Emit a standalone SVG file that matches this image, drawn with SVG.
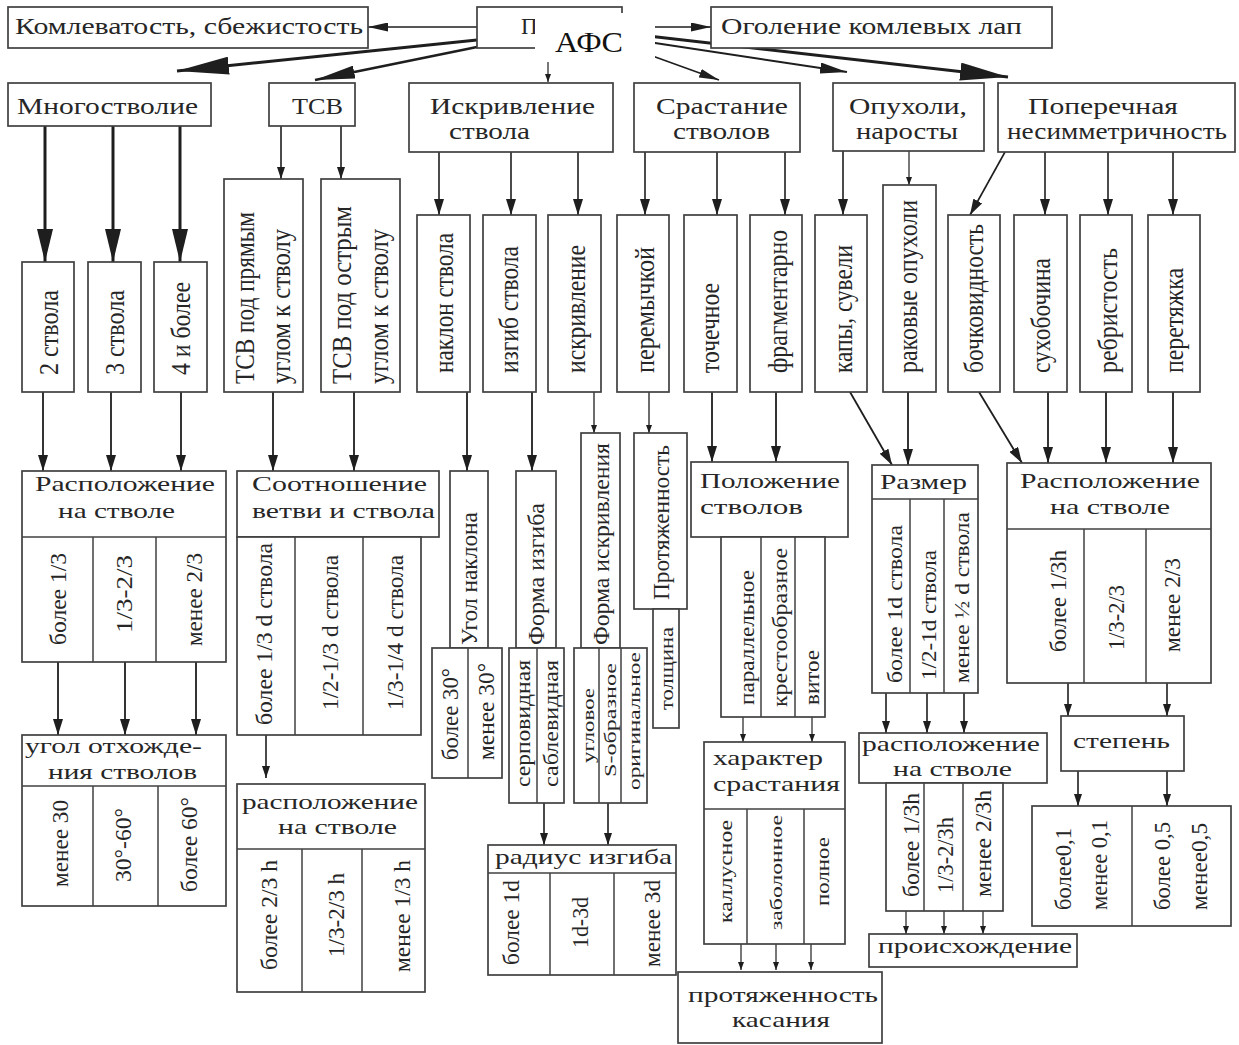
<svg xmlns="http://www.w3.org/2000/svg" width="1239" height="1045" viewBox="0 0 1239 1045">
<style>
.b{fill:#fff;stroke:#404040;stroke-width:1.7}
.ln{fill:none;stroke:#404040;stroke-width:1.5}
.c{fill:none;stroke:#1e1e1e;stroke-width:1.6}
.t{font-family:"Liberation Serif","Times New Roman",serif;font-size:22px;fill:#262626}
.v{font-family:"Liberation Serif","Times New Roman",serif;font-size:28px;fill:#262626;dominant-baseline:central}
.s{font-size:24px}
.xs{font-size:17px}
.ah{fill:#1e1e1e;stroke:none}
</style>
<defs>
<marker id="m52" markerUnits="userSpaceOnUse" markerWidth="52" markerHeight="18" refX="52" refY="9" orient="auto"><path class="ah" d="M0,0 L52,9 L0,18 z"/></marker>
<marker id="m48" markerUnits="userSpaceOnUse" markerWidth="48" markerHeight="18" refX="48" refY="9" orient="auto"><path class="ah" d="M0,0 L48,9 L0,18 z"/></marker>
<marker id="m40" markerUnits="userSpaceOnUse" markerWidth="40" markerHeight="13" refX="40" refY="6.5" orient="auto"><path class="ah" d="M0,0 L40,6.5 L0,13 z"/></marker>
<marker id="m33" markerUnits="userSpaceOnUse" markerWidth="33" markerHeight="16" refX="33" refY="8" orient="auto"><path class="ah" d="M0,0 L33,8 L0,16 z"/></marker>
<marker id="m27" markerUnits="userSpaceOnUse" markerWidth="27" markerHeight="11" refX="27" refY="5.5" orient="auto"><path class="ah" d="M0,0 L27,5.5 L0,11 z"/></marker>
<marker id="m20" markerUnits="userSpaceOnUse" markerWidth="20" markerHeight="9" refX="20" refY="4.5" orient="auto"><path class="ah" d="M0,0 L20,4.5 L0,9 z"/></marker>
<marker id="m16" markerUnits="userSpaceOnUse" markerWidth="16" markerHeight="10" refX="16" refY="5" orient="auto"><path class="ah" d="M0,0 L16,5 L0,10 z"/></marker>
<marker id="m12" markerUnits="userSpaceOnUse" markerWidth="12" markerHeight="8" refX="12" refY="4" orient="auto"><path class="ah" d="M0,0 L12,4 L0,8 z"/></marker>
<marker id="m8" markerUnits="userSpaceOnUse" markerWidth="8" markerHeight="6" refX="8" refY="3" orient="auto"><path class="ah" d="M0,0 L8,3 L0,6 z"/></marker>
</defs>
<rect x="0" y="0" width="1239" height="1045" fill="#fff"/>

<g id="connectors">
<line class="c" x1="477" y1="27" x2="368" y2="27" marker-end="url(#m20)"/>
<line class="c" x1="622" y1="27" x2="711" y2="27" marker-end="url(#m20)"/>
<line class="c" x1="477" y1="40" x2="177" y2="71" style="stroke-width:3" marker-end="url(#m52)"/>
<line class="c" x1="477" y1="47" x2="315" y2="80" style="stroke-width:2.5" marker-end="url(#m40)"/>
<line class="c" x1="548" y1="48" x2="548" y2="82" style="stroke-width:1.2" marker-end="url(#m8)"/>
<line class="c" x1="622" y1="45" x2="719" y2="80" marker-end="url(#m20)"/>
<line class="c" x1="622" y1="38" x2="847" y2="72" style="stroke-width:2" marker-end="url(#m27)"/>
<line class="c" x1="622" y1="33" x2="1008" y2="77" style="stroke-width:3" marker-end="url(#m48)"/>

<line class="c" x1="45" y1="126" x2="45" y2="262" style="stroke-width:3" marker-end="url(#m33)"/>
<line class="c" x1="113" y1="126" x2="113" y2="262" style="stroke-width:3" marker-end="url(#m33)"/>
<line class="c" x1="180" y1="126" x2="180" y2="262" style="stroke-width:3" marker-end="url(#m33)"/>
<line class="c" x1="281" y1="126" x2="281" y2="179" marker-end="url(#m12)"/>
<line class="c" x1="341" y1="126" x2="341" y2="179" marker-end="url(#m12)"/>
<line class="c" x1="439" y1="152" x2="439" y2="215" marker-end="url(#m16)"/>
<line class="c" x1="511" y1="152" x2="511" y2="215" marker-end="url(#m16)"/>
<line class="c" x1="578" y1="152" x2="578" y2="215" marker-end="url(#m16)"/>
<line class="c" x1="645" y1="152" x2="645" y2="215" marker-end="url(#m16)"/>
<line class="c" x1="717" y1="152" x2="717" y2="215" marker-end="url(#m16)"/>
<line class="c" x1="785" y1="152" x2="785" y2="215" marker-end="url(#m16)"/>
<line class="c" x1="843" y1="151" x2="843" y2="215" marker-end="url(#m16)"/>
<line class="c" x1="909" y1="151" x2="909" y2="185" style="stroke-width:1.2" marker-end="url(#m8)"/>
<line class="c" x1="1005" y1="152" x2="970" y2="215" marker-end="url(#m16)"/>
<line class="c" x1="1045" y1="152" x2="1045" y2="215" marker-end="url(#m16)"/>
<line class="c" x1="1108" y1="152" x2="1108" y2="215" marker-end="url(#m16)"/>
<line class="c" x1="1173" y1="152" x2="1173" y2="215" marker-end="url(#m16)"/>

<line class="c" x1="43" y1="392" x2="43" y2="471" style="stroke-width:1.8" marker-end="url(#m16)"/>
<line class="c" x1="111" y1="392" x2="111" y2="471" style="stroke-width:1.8" marker-end="url(#m16)"/>
<line class="c" x1="181" y1="392" x2="181" y2="471" style="stroke-width:1.8" marker-end="url(#m16)"/>
<line class="c" x1="273" y1="392" x2="273" y2="471" style="stroke-width:1.8" marker-end="url(#m16)"/>
<line class="c" x1="354" y1="392" x2="354" y2="471" style="stroke-width:1.8" marker-end="url(#m16)"/>
<line class="c" x1="467" y1="392" x2="467" y2="471" style="stroke-width:1.8" marker-end="url(#m16)"/>
<line class="c" x1="532" y1="392" x2="532" y2="471" style="stroke-width:1.8" marker-end="url(#m16)"/>
<line class="c" x1="594" y1="392" x2="594" y2="433" style="stroke-width:1.3" marker-end="url(#m8)"/>
<line class="c" x1="649" y1="392" x2="649" y2="433" style="stroke-width:1.3" marker-end="url(#m8)"/>
<line class="c" x1="712" y1="392" x2="712" y2="462" style="stroke-width:1.8" marker-end="url(#m16)"/>
<line class="c" x1="776" y1="392" x2="776" y2="462" style="stroke-width:1.8" marker-end="url(#m16)"/>
<line class="c" x1="850" y1="392" x2="892" y2="465" style="stroke-width:1.8" marker-end="url(#m16)"/>
<line class="c" x1="908" y1="392" x2="908" y2="465" style="stroke-width:1.8" marker-end="url(#m16)"/>
<line class="c" x1="979" y1="392" x2="1022" y2="463" style="stroke-width:1.8" marker-end="url(#m16)"/>
<line class="c" x1="1048" y1="392" x2="1048" y2="463" style="stroke-width:1.8" marker-end="url(#m16)"/>
<line class="c" x1="1106" y1="392" x2="1106" y2="463" style="stroke-width:1.8" marker-end="url(#m16)"/>
<line class="c" x1="1173" y1="392" x2="1173" y2="463" style="stroke-width:1.8" marker-end="url(#m16)"/>

<line class="c" x1="58" y1="662" x2="58" y2="735" style="stroke-width:1.8" marker-end="url(#m16)"/>
<line class="c" x1="125" y1="662" x2="125" y2="735" style="stroke-width:1.8" marker-end="url(#m16)"/>
<line class="c" x1="196" y1="662" x2="196" y2="735" style="stroke-width:1.8" marker-end="url(#m16)"/>
<line class="c" x1="266" y1="735" x2="266" y2="778" marker-end="url(#m12)"/>
<line class="c" x1="544" y1="803" x2="544" y2="845" marker-end="url(#m12)"/>
<line class="c" x1="608" y1="803" x2="608" y2="845" marker-end="url(#m12)"/>
<line class="c" x1="743" y1="717" x2="743" y2="742" style="stroke-width:1.2" marker-end="url(#m8)"/>
<line class="c" x1="812" y1="717" x2="812" y2="742" style="stroke-width:1.2" marker-end="url(#m8)"/>
<line class="c" x1="741" y1="944" x2="741" y2="970" style="stroke-width:1.2" marker-end="url(#m8)"/>
<line class="c" x1="776" y1="944" x2="776" y2="970" style="stroke-width:1.2" marker-end="url(#m8)"/>
<line class="c" x1="811" y1="944" x2="811" y2="970" style="stroke-width:1.2" marker-end="url(#m8)"/>
<line class="c" x1="886" y1="693" x2="886" y2="733" marker-end="url(#m12)"/>
<line class="c" x1="927" y1="693" x2="927" y2="733" marker-end="url(#m12)"/>
<line class="c" x1="964" y1="693" x2="964" y2="733" marker-end="url(#m12)"/>
<line class="c" x1="906" y1="911" x2="906" y2="934" style="stroke-width:1.2" marker-end="url(#m8)"/>
<line class="c" x1="944" y1="911" x2="944" y2="934" style="stroke-width:1.2" marker-end="url(#m8)"/>
<line class="c" x1="983" y1="911" x2="983" y2="934" style="stroke-width:1.2" marker-end="url(#m8)"/>
<line class="c" x1="1068" y1="683" x2="1068" y2="716" marker-end="url(#m12)"/>
<line class="c" x1="1167" y1="683" x2="1167" y2="716" marker-end="url(#m12)"/>
<line class="c" x1="1078" y1="771" x2="1078" y2="806" marker-end="url(#m12)"/>
<line class="c" x1="1167" y1="771" x2="1167" y2="806" marker-end="url(#m12)"/>
</g>

<g id="n-komlev"><rect class="b" x="8" y="7" width="360" height="41"/><text class="t" x="15" y="34" style="font-size:23px" textLength="348" lengthAdjust="spacingAndGlyphs">Комлеватость, сбежистость</text></g>
<g id="n-root"><rect class="b" x="477" y="7" width="145" height="41"/><text class="t" x="521" y="34" style="font-size:23px">П</text><rect x="535" y="13" width="120" height="49" fill="#fff"/><text x="555" y="52" style="font-family:'Liberation Serif','Times New Roman',serif;font-size:30px;fill:#111" textLength="68" lengthAdjust="spacingAndGlyphs">АФС</text></g>
<g id="n-ogol"><rect class="b" x="711" y="7" width="341" height="41"/><text class="t" x="721" y="34" style="font-size:23px" textLength="301" lengthAdjust="spacingAndGlyphs">Оголение комлевых лап</text></g>

<g id="n-mnogo"><rect class="b" x="8" y="83" width="203" height="43"/><text class="t" x="17" y="114" style="font-size:23px" textLength="181" lengthAdjust="spacingAndGlyphs">Многостволие</text></g>
<g id="n-tsv"><rect class="b" x="269" y="83" width="86" height="43"/><text class="t" x="292" y="114" style="font-size:23px" textLength="51" lengthAdjust="spacingAndGlyphs">ТСВ</text></g>
<g id="n-iskriv"><rect class="b" x="409" y="83" width="204" height="69"/><text class="t" x="430" y="114" style="font-size:23px" textLength="165" lengthAdjust="spacingAndGlyphs">Искривление</text><text class="t" x="449" y="139" style="font-size:23px" textLength="81" lengthAdjust="spacingAndGlyphs">ствола</text></g>
<g id="n-srast"><rect class="b" x="634" y="83" width="166" height="69"/><text class="t" x="656" y="114" style="font-size:23px" textLength="132" lengthAdjust="spacingAndGlyphs">Срастание</text><text class="t" x="673" y="139" style="font-size:23px" textLength="97" lengthAdjust="spacingAndGlyphs">стволов</text></g>
<g id="n-opuh"><rect class="b" x="833" y="83" width="151" height="68"/><text class="t" x="849" y="114" style="font-size:23px" textLength="118" lengthAdjust="spacingAndGlyphs">Опухоли,</text><text class="t" x="856" y="139" style="font-size:23px" textLength="102" lengthAdjust="spacingAndGlyphs">наросты</text></g>
<g id="n-poper"><rect class="b" x="998" y="83" width="237" height="69"/><text class="t" x="1028" y="114" style="font-size:23px" textLength="150" lengthAdjust="spacingAndGlyphs">Поперечная</text><text class="t" x="1007" y="139" style="font-size:23px" textLength="220" lengthAdjust="spacingAndGlyphs">несимметричность</text></g>

<g id="n-2stv"><rect class="b" x="22" y="262" width="52" height="130"/><text class="v" transform="translate(48,375) rotate(-90)" textLength="85" lengthAdjust="spacingAndGlyphs">2 ствола</text></g>
<g id="n-3stv"><rect class="b" x="88" y="262" width="53" height="130"/><text class="v" transform="translate(114,375) rotate(-90)" textLength="85" lengthAdjust="spacingAndGlyphs">3 ствола</text></g>
<g id="n-4stv"><rect class="b" x="154" y="262" width="53" height="130"/><text class="v" transform="translate(180,375) rotate(-90)" textLength="93" lengthAdjust="spacingAndGlyphs">4 и более</text></g>
<g id="n-tsv-pr"><rect class="b" x="224" y="179" width="79" height="213"/><text class="v" transform="translate(244,384) rotate(-90)" textLength="172" lengthAdjust="spacingAndGlyphs">ТСВ под прямым</text><text class="v" transform="translate(280,384) rotate(-90)" textLength="155" lengthAdjust="spacingAndGlyphs">углом к стволу</text></g>
<g id="n-tsv-ost"><rect class="b" x="321" y="179" width="79" height="213"/><text class="v" transform="translate(341,384) rotate(-90)" textLength="178" lengthAdjust="spacingAndGlyphs">ТСВ под острым</text><text class="v" transform="translate(378,384) rotate(-90)" textLength="155" lengthAdjust="spacingAndGlyphs">углом к стволу</text></g>
<g id="n-naklon"><rect class="b" x="417" y="215" width="53" height="177"/><text class="v" transform="translate(443,373) rotate(-90)" textLength="140" lengthAdjust="spacingAndGlyphs">наклон ствола</text></g>
<g id="n-izgib"><rect class="b" x="483" y="215" width="53" height="177"/><text class="v" transform="translate(508,373) rotate(-90)" textLength="127" lengthAdjust="spacingAndGlyphs">изгиб ствола</text></g>
<g id="n-iskr2"><rect class="b" x="548" y="215" width="53" height="177"/><text class="v" transform="translate(575,373) rotate(-90)" textLength="128" lengthAdjust="spacingAndGlyphs">искривление</text></g>
<g id="n-peremych"><rect class="b" x="617" y="215" width="52" height="177"/><text class="v" transform="translate(644,373) rotate(-90)" textLength="126" lengthAdjust="spacingAndGlyphs">перемычкой</text></g>
<g id="n-tochech"><rect class="b" x="684" y="215" width="53" height="177"/><text class="v" transform="translate(709,373) rotate(-90)" textLength="90" lengthAdjust="spacingAndGlyphs">точечное</text></g>
<g id="n-fragm"><rect class="b" x="750" y="215" width="52" height="177"/><text class="v" transform="translate(777,373) rotate(-90)" textLength="143" lengthAdjust="spacingAndGlyphs">фрагментарно</text></g>
<g id="n-kapy"><rect class="b" x="815" y="215" width="52" height="177"/><text class="v" transform="translate(842,373) rotate(-90)" textLength="128" lengthAdjust="spacingAndGlyphs">капы, сувели</text></g>
<g id="n-rak"><rect class="b" x="883" y="185" width="53" height="207"/><text class="v" transform="translate(907,373) rotate(-90)" textLength="173" lengthAdjust="spacingAndGlyphs">раковые опухоли</text></g>
<g id="n-bochk"><rect class="b" x="948" y="215" width="52" height="177"/><text class="v" transform="translate(973,373) rotate(-90)" textLength="149" lengthAdjust="spacingAndGlyphs">бочковидность</text></g>
<g id="n-suhob"><rect class="b" x="1014" y="215" width="53" height="177"/><text class="v" transform="translate(1040,373) rotate(-90)" textLength="115" lengthAdjust="spacingAndGlyphs">сухобочина</text></g>
<g id="n-rebr"><rect class="b" x="1080" y="215" width="52" height="177"/><text class="v" transform="translate(1107,373) rotate(-90)" textLength="125" lengthAdjust="spacingAndGlyphs">ребристость</text></g>
<g id="n-peret"><rect class="b" x="1148" y="215" width="52" height="177"/><text class="v" transform="translate(1173,373) rotate(-90)" textLength="105" lengthAdjust="spacingAndGlyphs">перетяжка</text></g>

<g id="n-rasp1"><rect class="b" x="22" y="471" width="204" height="191"/><line class="ln" x1="22" y1="537" x2="226" y2="537"/><line class="ln" x1="93" y1="537" x2="93" y2="662"/><line class="ln" x1="156" y1="537" x2="156" y2="662"/><text class="t" x="35" y="491" textLength="180" lengthAdjust="spacingAndGlyphs">Расположение</text><text class="t" x="58" y="518" textLength="117" lengthAdjust="spacingAndGlyphs">на стволе</text><text class="v s" transform="translate(58,645) rotate(-90)" textLength="92" lengthAdjust="spacingAndGlyphs">более 1/3</text><text class="v s" transform="translate(124,633) rotate(-90)" textLength="78" lengthAdjust="spacingAndGlyphs">1/3-2/3</text><text class="v s" transform="translate(194,646) rotate(-90)" textLength="93" lengthAdjust="spacingAndGlyphs">менее 2/3</text></g>
<g id="n-sootn"><rect class="b" x="237" y="471" width="202" height="66"/><rect class="b" x="237" y="537" width="184" height="198"/><line class="ln" x1="295" y1="537" x2="295" y2="735"/><line class="ln" x1="363" y1="537" x2="363" y2="735"/><text class="t" x="252" y="491" textLength="175" lengthAdjust="spacingAndGlyphs">Соотношение</text><text class="t" x="252" y="518" textLength="183" lengthAdjust="spacingAndGlyphs">ветви и ствола</text><text class="v s" transform="translate(264,725) rotate(-90)" textLength="182" lengthAdjust="spacingAndGlyphs">более 1/3 d ствола</text><text class="v s" transform="translate(330,710) rotate(-90)" textLength="155" lengthAdjust="spacingAndGlyphs">1/2-1/3 d ствола</text><text class="v s" transform="translate(395,710) rotate(-90)" textLength="155" lengthAdjust="spacingAndGlyphs">1/3-1/4 d ствола</text></g>
<g id="n-ugolnakl"><rect class="b" x="450" y="471" width="38" height="177"/><rect class="b" x="432" y="648" width="70" height="130"/><line class="ln" x1="468" y1="648" x2="468" y2="778"/><text class="v s" transform="translate(469,645) rotate(-90)" textLength="133" lengthAdjust="spacingAndGlyphs">Угол наклона</text><text class="v s" transform="translate(450,760) rotate(-90)" textLength="92" lengthAdjust="spacingAndGlyphs">более 30°</text><text class="v s" transform="translate(486,760) rotate(-90)" textLength="97" lengthAdjust="spacingAndGlyphs">менее 30°</text></g>
<g id="n-formizg"><rect class="b" x="516" y="471" width="40" height="177"/><rect class="b" x="509" y="648" width="55" height="155"/><line class="ln" x1="537" y1="648" x2="537" y2="803"/><text class="v s" transform="translate(536,645) rotate(-90)" textLength="142" lengthAdjust="spacingAndGlyphs">Форма изгиба</text><text class="v" style="font-size:21px" transform="translate(523,787) rotate(-90)" textLength="127" lengthAdjust="spacingAndGlyphs">серповидная</text><text class="v" style="font-size:21px" transform="translate(551,787) rotate(-90)" textLength="127" lengthAdjust="spacingAndGlyphs">саблевидная</text></g>
<g id="n-formiskr"><rect class="b" x="581" y="433" width="39" height="215"/><rect class="b" x="574" y="648" width="73" height="155"/><line class="ln" x1="599" y1="648" x2="599" y2="803"/><line class="ln" x1="621" y1="648" x2="621" y2="803"/><text class="v s" transform="translate(601,645) rotate(-90)" textLength="202" lengthAdjust="spacingAndGlyphs">Форма искривления</text><text class="v" style="font-size:16px" transform="translate(588,763) rotate(-90)" textLength="75" lengthAdjust="spacingAndGlyphs">угловое</text><text class="v xs" transform="translate(610,777) rotate(-90)" textLength="114" lengthAdjust="spacingAndGlyphs">S-образное</text><text class="v xs" transform="translate(634,790) rotate(-90)" textLength="138" lengthAdjust="spacingAndGlyphs">оригинальное</text></g>
<g id="n-protyazh"><rect class="b" x="634" y="433" width="53" height="176"/><rect class="b" x="653" y="609" width="26" height="119"/><text class="v s" transform="translate(661,600) rotate(-90)" textLength="155" lengthAdjust="spacingAndGlyphs">Протяженность</text><text class="v" style="font-size:19px" transform="translate(666,710) rotate(-90)" textLength="83" lengthAdjust="spacingAndGlyphs">толщина</text></g>
<g id="n-polozh"><rect class="b" x="691" y="462" width="157" height="75"/><rect class="b" x="721" y="537" width="104" height="180"/><line class="ln" x1="761" y1="537" x2="761" y2="717"/><line class="ln" x1="795" y1="537" x2="795" y2="717"/><text class="t" x="700" y="488" textLength="140" lengthAdjust="spacingAndGlyphs">Положение</text><text class="t" x="700" y="514" textLength="103" lengthAdjust="spacingAndGlyphs">стволов</text><text class="v" style="font-size:22px" transform="translate(746,705) rotate(-90)" textLength="135" lengthAdjust="spacingAndGlyphs">параллельное</text><text class="v" style="font-size:22px" transform="translate(779,707) rotate(-90)" textLength="159" lengthAdjust="spacingAndGlyphs">крестообразное</text><text class="v" style="font-size:22px" transform="translate(811,705) rotate(-90)" textLength="55" lengthAdjust="spacingAndGlyphs">витое</text></g>
<g id="n-razmer"><rect class="b" x="872" y="465" width="106" height="228"/><line class="ln" x1="872" y1="499" x2="978" y2="499"/><line class="ln" x1="910" y1="499" x2="910" y2="693"/><line class="ln" x1="944" y1="499" x2="944" y2="693"/><text class="t" x="880" y="489" textLength="87" lengthAdjust="spacingAndGlyphs">Размер</text><text class="v" style="font-size:22px" transform="translate(894,683) rotate(-90)" textLength="158" lengthAdjust="spacingAndGlyphs">более 1d ствола</text><text class="v" style="font-size:22px" transform="translate(928,680) rotate(-90)" textLength="130" lengthAdjust="spacingAndGlyphs">1/2-1d ствола</text><text class="v" style="font-size:22px" transform="translate(961,683) rotate(-90)" textLength="171" lengthAdjust="spacingAndGlyphs">менее ½ d ствола</text></g>
<g id="n-rasp2"><rect class="b" x="1007" y="463" width="204" height="220"/><line class="ln" x1="1007" y1="529" x2="1211" y2="529"/><line class="ln" x1="1084" y1="529" x2="1084" y2="683"/><line class="ln" x1="1146" y1="529" x2="1146" y2="683"/><text class="t" x="1020" y="488" textLength="180" lengthAdjust="spacingAndGlyphs">Расположение</text><text class="t" x="1050" y="514" textLength="120" lengthAdjust="spacingAndGlyphs">на стволе</text><text class="v s" transform="translate(1058,652) rotate(-90)" textLength="102" lengthAdjust="spacingAndGlyphs">более 1/3h</text><text class="v s" transform="translate(1116,650) rotate(-90)" textLength="65" lengthAdjust="spacingAndGlyphs">1/3-2/3</text><text class="v s" transform="translate(1172,652) rotate(-90)" textLength="94" lengthAdjust="spacingAndGlyphs">менее 2/3</text></g>

<g id="n-ugolotx"><rect class="b" x="22" y="735" width="204" height="171"/><line class="ln" x1="22" y1="786" x2="226" y2="786"/><line class="ln" x1="93" y1="786" x2="93" y2="906"/><line class="ln" x1="158" y1="786" x2="158" y2="906"/><text class="t" x="25" y="753" textLength="177" lengthAdjust="spacingAndGlyphs">угол отхожде-</text><text class="t" x="48" y="779" textLength="149" lengthAdjust="spacingAndGlyphs">ния стволов</text><text class="v s" transform="translate(60,887) rotate(-90)" textLength="87" lengthAdjust="spacingAndGlyphs">менее 30</text><text class="v s" transform="translate(123,882) rotate(-90)" textLength="74" lengthAdjust="spacingAndGlyphs">30°-60°</text><text class="v s" transform="translate(189,892) rotate(-90)" textLength="95" lengthAdjust="spacingAndGlyphs">более 60°</text></g>
<g id="n-rasp3"><rect class="b" x="237" y="784" width="188" height="208"/><line class="ln" x1="237" y1="849" x2="425" y2="849"/><line class="ln" x1="302" y1="849" x2="302" y2="992"/><line class="ln" x1="362" y1="849" x2="362" y2="992"/><text class="t" x="242" y="809" textLength="176" lengthAdjust="spacingAndGlyphs">расположение</text><text class="t" x="278" y="834" textLength="119" lengthAdjust="spacingAndGlyphs">на стволе</text><text class="v s" transform="translate(269,970) rotate(-90)" textLength="110" lengthAdjust="spacingAndGlyphs">более 2/3 h</text><text class="v s" transform="translate(336,957) rotate(-90)" textLength="84" lengthAdjust="spacingAndGlyphs">1/3-2/3 h</text><text class="v s" transform="translate(402,972) rotate(-90)" textLength="112" lengthAdjust="spacingAndGlyphs">менее 1/3 h</text></g>
<g id="n-radius"><rect class="b" x="488" y="845" width="188" height="130"/><line class="ln" x1="488" y1="873" x2="676" y2="873"/><line class="ln" x1="550" y1="873" x2="550" y2="975"/><line class="ln" x1="614" y1="873" x2="614" y2="975"/><text class="t" x="495" y="864" textLength="177" lengthAdjust="spacingAndGlyphs">радиус изгиба</text><text class="v s" transform="translate(511,965) rotate(-90)" textLength="85" lengthAdjust="spacingAndGlyphs">более 1d</text><text class="v s" transform="translate(580,948) rotate(-90)" textLength="51" lengthAdjust="spacingAndGlyphs">1d-3d</text><text class="v s" transform="translate(652,967) rotate(-90)" textLength="87" lengthAdjust="spacingAndGlyphs">менее 3d</text></g>
<g id="n-harakter"><rect class="b" x="704" y="742" width="141" height="202"/><line class="ln" x1="704" y1="809" x2="845" y2="809"/><line class="ln" x1="747" y1="809" x2="747" y2="944"/><line class="ln" x1="804" y1="809" x2="804" y2="944"/><text class="t" x="713" y="765" textLength="110" lengthAdjust="spacingAndGlyphs">характер</text><text class="t" x="713" y="791" textLength="127" lengthAdjust="spacingAndGlyphs">срастания</text><text class="v" style="font-size:19px" transform="translate(725,923) rotate(-90)" textLength="103" lengthAdjust="spacingAndGlyphs">каллусное</text><text class="v" style="font-size:16px" transform="translate(776,930) rotate(-90)" textLength="115" lengthAdjust="spacingAndGlyphs">заболонное</text><text class="v" style="font-size:18px" transform="translate(823,906) rotate(-90)" textLength="69" lengthAdjust="spacingAndGlyphs">полное</text></g>
<g id="n-kasan"><rect class="b" x="678" y="972" width="204" height="71"/><text class="t" x="688" y="1002" textLength="190" lengthAdjust="spacingAndGlyphs">протяженность</text><text class="t" x="732" y="1027" textLength="98" lengthAdjust="spacingAndGlyphs">касания</text></g>
<g id="n-rasp4"><rect class="b" x="859" y="733" width="188" height="50"/><rect class="b" x="886" y="783" width="117" height="128"/><line class="ln" x1="924" y1="783" x2="924" y2="911"/><line class="ln" x1="963" y1="783" x2="963" y2="911"/><text class="t" x="862" y="751" textLength="178" lengthAdjust="spacingAndGlyphs">расположение</text><text class="t" x="893" y="776" textLength="119" lengthAdjust="spacingAndGlyphs">на стволе</text><text class="v s" transform="translate(911,897) rotate(-90)" textLength="104" lengthAdjust="spacingAndGlyphs">более 1/3h</text><text class="v s" transform="translate(945,893) rotate(-90)" textLength="76" lengthAdjust="spacingAndGlyphs">1/3-2/3h</text><text class="v s" transform="translate(983,897) rotate(-90)" textLength="107" lengthAdjust="spacingAndGlyphs">менее 2/3h</text></g>
<g id="n-proish"><rect class="b" x="869" y="934" width="208" height="33"/><text class="t" x="878" y="953" textLength="194" lengthAdjust="spacingAndGlyphs">происхождение</text></g>
<g id="n-stepen"><rect class="b" x="1061" y="716" width="123" height="55"/><text class="t" x="1073" y="748" textLength="97" lengthAdjust="spacingAndGlyphs">степень</text></g>
<g id="n-stepvals"><rect class="b" x="1032" y="806" width="199" height="120"/><line class="ln" x1="1132" y1="806" x2="1132" y2="926"/><text class="v s" transform="translate(1063,910) rotate(-90)" textLength="82" lengthAdjust="spacingAndGlyphs">более0,1</text><text class="v s" transform="translate(1099,910) rotate(-90)" textLength="90" lengthAdjust="spacingAndGlyphs">менее 0,1</text><text class="v s" transform="translate(1162,910) rotate(-90)" textLength="88" lengthAdjust="spacingAndGlyphs">более 0,5</text><text class="v s" transform="translate(1199,910) rotate(-90)" textLength="87" lengthAdjust="spacingAndGlyphs">менее0,5</text></g>
</svg>
